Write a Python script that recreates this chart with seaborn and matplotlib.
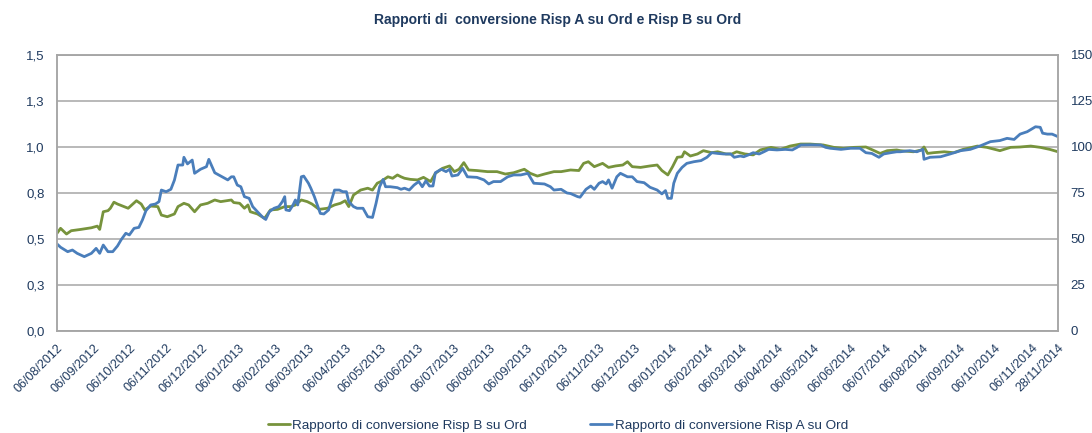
import pandas as pd
import numpy as np
import matplotlib
matplotlib.use("Agg")
import matplotlib.pyplot as plt
import seaborn as sns

# =========================
# Data
# =========================
start_date = "2012-08-06"
end_date = "2014-11-28"

# days since 06/08/2012 and ratio for Risp B su Ord (green)
days_b = [0, 3, 8, 12, 20, 29, 34, 36, 39, 43, 45, 48, 51, 60, 67, 71, 74, 79, 85, 88,
          93, 99, 102, 107, 111, 116, 121, 127, 133, 138, 147,
          149, 154, 158, 161, 163, 169, 175, 180, 186, 192, 197, 201, 206, 211, 215, 221,
          228, 234, 239, 243, 246, 250, 256, 262, 266, 270, 273, 279, 283, 287, 290,
          293, 298, 304, 309, 315, 319, 325, 331, 335, 339, 343, 347, 354, 363, 371, 378,
          385, 394, 399, 405, 411, 419, 425, 433,
          440, 444, 448, 453, 460, 465, 471, 477, 481, 485, 492, 500, 506, 510, 515, 519,
          523, 527, 529, 534, 540, 545, 552, 557, 564, 569, 573,
          580, 587, 593, 602, 610, 618, 627, 635, 646, 655, 663, 672, 682, 689, 694, 700, 708,
          711, 722, 729, 731, 734, 739, 748, 756, 764, 776, 784, 795, 804, 812, 821, 829, 837, 844]
ris_b = [0.531, 0.558, 0.527, 0.545, 0.552, 0.561, 0.570, 0.552, 0.648, 0.654, 0.667, 0.700,
         0.690, 0.667, 0.708, 0.690, 0.658, 0.679, 0.676, 0.630, 0.621, 0.636, 0.676, 0.694,
         0.685, 0.648, 0.685, 0.694, 0.712, 0.703, 0.712,
         0.698, 0.694, 0.667, 0.685, 0.648, 0.636, 0.612, 0.658, 0.661, 0.676, 0.676, 0.685,
         0.712, 0.703, 0.690, 0.661, 0.667, 0.685, 0.694, 0.708, 0.676, 0.739, 0.766, 0.776,
         0.766, 0.803, 0.812, 0.838, 0.830, 0.848, 0.838,
         0.830, 0.824, 0.821, 0.835, 0.812, 0.857, 0.884, 0.897, 0.866, 0.879, 0.915, 0.875,
         0.872, 0.866, 0.866, 0.853, 0.860, 0.879, 0.857, 0.842, 0.853, 0.866, 0.866, 0.875,
         0.872, 0.911, 0.920, 0.893, 0.911, 0.889, 0.897, 0.902, 0.920, 0.893, 0.889, 0.897,
         0.902, 0.872, 0.848, 0.893, 0.944, 0.947, 0.974, 0.951, 0.962, 0.980, 0.969, 0.974,
         0.962, 0.962, 0.974,
         0.962, 0.957, 0.984, 0.998, 0.987, 1.005, 1.016, 1.016, 1.011, 0.998, 0.993, 0.998,
         1.000, 0.980, 0.965, 0.980, 0.984,
         0.980, 0.974, 0.984, 1.000, 0.965, 0.969, 0.974, 0.969, 0.987, 1.005, 0.998, 0.980,
         0.998, 1.000, 1.005, 0.998, 0.987, 0.974]

# days since 06/08/2012 and ratio for Risp A su Ord (blue)
days_a = [0, 3, 9, 13, 17, 23, 29, 33, 36, 39, 43, 47, 51, 54, 58, 61, 65, 69, 72, 75,
          79, 83, 86, 88, 92, 96, 99, 102, 106, 107, 110, 114, 116, 121, 126, 128, 133, 138, 144, 147,
          149, 152, 155, 158, 162, 165, 169, 173, 176, 179, 183, 187, 190, 192, 193, 196, 199, 201,
          203, 206, 208, 212, 214, 217, 220, 222, 225, 229, 234, 238, 241, 244, 246, 250, 253, 258,
          262, 266, 269, 272, 275, 277, 281, 287, 290,
          293, 297, 301, 305, 308, 311, 314, 317, 319, 324, 328, 331, 333, 338, 342, 346, 354, 360,
          364, 368, 374, 380, 385, 391, 397, 402, 411, 416, 419, 425, 430, 433,
          439, 441, 446, 450, 453, 457, 460, 463, 465, 468, 472, 475, 481, 485, 489, 495, 500, 506,
          510, 513, 515, 518, 520, 523, 527, 531, 537, 543, 548, 552, 557, 562, 568, 571, 576,
          579, 583, 587, 592, 596, 600, 607, 614, 620, 624, 627, 635, 644, 648, 652, 661, 669, 677,
          682, 687, 693, 697, 703, 708,
          711, 719, 725, 730, 731, 736, 745, 753, 762, 770, 778, 787, 795, 801, 807, 812, 818, 825,
          829, 831, 835, 839, 844]
ris_a = [0.473, 0.455, 0.431, 0.440, 0.422, 0.404, 0.422, 0.449, 0.422, 0.467, 0.431, 0.431,
         0.462, 0.495, 0.531, 0.522, 0.558, 0.563, 0.603, 0.654, 0.685, 0.690, 0.703, 0.766,
         0.757, 0.770, 0.820, 0.902, 0.902, 0.944, 0.908, 0.929, 0.857, 0.879, 0.893, 0.933,
         0.860, 0.842, 0.821, 0.838,
         0.838, 0.793, 0.784, 0.730, 0.721, 0.676, 0.648, 0.621, 0.606, 0.648, 0.667, 0.676,
         0.703, 0.730, 0.658, 0.654, 0.685, 0.712, 0.685, 0.838, 0.842, 0.803, 0.776, 0.730,
         0.676, 0.639, 0.636, 0.658, 0.766, 0.766, 0.757, 0.757, 0.703, 0.676, 0.667, 0.667,
         0.621, 0.617, 0.694, 0.784, 0.824, 0.784, 0.784, 0.779, 0.770,
         0.776, 0.766, 0.793, 0.812, 0.784, 0.816, 0.788, 0.788, 0.860, 0.879, 0.866, 0.879,
         0.842, 0.848, 0.884, 0.838, 0.835, 0.821, 0.799, 0.812, 0.812, 0.838, 0.848, 0.848,
         0.857, 0.803, 0.799, 0.784, 0.766, 0.770, 0.750, 0.747,
         0.730, 0.727, 0.770, 0.788, 0.770, 0.803, 0.812, 0.799, 0.821, 0.776, 0.838, 0.857,
         0.838, 0.838, 0.812, 0.806, 0.781, 0.766, 0.745, 0.763, 0.721, 0.721, 0.803, 0.857,
         0.889, 0.911, 0.920, 0.926, 0.944, 0.969, 0.965, 0.962, 0.962, 0.944, 0.951,
         0.947, 0.957, 0.969, 0.962, 0.974, 0.987, 0.984, 0.987, 0.984, 0.998, 1.011, 1.012,
         1.011, 0.998, 0.993, 0.987, 0.993, 0.993, 0.969, 0.965, 0.944, 0.962, 0.969, 0.974,
         0.974, 0.980, 0.974, 0.987, 0.933, 0.944, 0.947, 0.962, 0.980, 0.987, 1.005, 1.029,
         1.035, 1.047, 1.041, 1.070, 1.083, 1.110, 1.107, 1.075, 1.070, 1.070, 1.056]

label_b = "Rapporto di conversione Risp B su Ord"
label_a = "Rapporto di conversione Risp A su Ord"
left_ticks = [0.0, 0.25, 0.5, 0.75, 1.0, 1.25, 1.5]
left_labels = ["0,0", "0,3", "0,5", "0,8", "1,0", "1,3", "1,5"]
right_ticks = [0, 25, 50, 75, 100, 125, 150]

# =========================
# Build long-form table
# =========================
t0 = pd.Timestamp(start_date)
df = pd.concat([
    pd.DataFrame({"data": t0 + pd.to_timedelta(days_b, unit="D"), "rapporto": ris_b, "serie": label_b}),
    pd.DataFrame({"data": t0 + pd.to_timedelta(days_a, unit="D"), "rapporto": ris_a, "serie": label_a}),
], ignore_index=True)

sns.set_style("white")
plt.rcParams["font.family"] = ["Liberation Sans", "DejaVu Sans"]

text_col = "#1F3A5F"
grid_col = "#A6A6A6"

fig = plt.figure(figsize=(10.92, 4.33), dpi=100)
ax = fig.add_axes([0.0522, 0.2356, 0.9167, 0.6374])

sns.lineplot(data=df, x="data", y="rapporto", hue="serie",
             hue_order=[label_b, label_a],
             palette=["#77933C", "#4A7EBB"],
             estimator=None, errorbar=None, linewidth=2.0, legend=False, ax=ax)

# axis ranges and ticks
ax.set_xlim(pd.Timestamp(start_date), pd.Timestamp(end_date))
ax.set_ylim(0, 1.5)
ax.set_yticks(left_ticks)
ax.set_yticklabels(left_labels)
ax.yaxis.grid(True, color=grid_col, linewidth=1.1)
ax.set_axisbelow(True)

xt = list(pd.date_range(start_date, periods=28, freq=pd.DateOffset(months=1))) + [pd.Timestamp(end_date)]
ax.set_xticks(xt)
ax.set_xticklabels([d.strftime("%d/%m/%Y") for d in xt], rotation=45, ha="right",
                   rotation_mode="anchor")
ax.tick_params(axis="x", length=0, pad=8, labelsize=9, labelcolor=text_col)
ax.tick_params(axis="y", length=0, pad=9, labelsize=9.5, labelcolor=text_col)
ax.set_xlabel("")
ax.set_ylabel("")

ax2 = ax.twinx()
ax2.set_ylim(0, 150)
ax2.set_yticks(right_ticks)
ax2.tick_params(axis="y", length=0, pad=9, labelsize=9.5, labelcolor=text_col)

for a in (ax, ax2):
    for s in a.spines.values():
        s.set_color(grid_col)
        s.set_linewidth(1.1)

ax.set_title("Rapporti di  conversione Risp A su Ord e Risp B su Ord",
             fontsize=10, fontweight="bold", color=text_col, pad=22)

fig.legend(ax.lines[:2], [label_b, label_a], loc="lower center",
           bbox_to_anchor=(0.511, -0.025), ncol=2, frameon=False,
           fontsize=9.7, handlelength=1.6, handletextpad=0.2, columnspacing=4.7,
           labelcolor=text_col)

plt.savefig("out.png", dpi=100)
